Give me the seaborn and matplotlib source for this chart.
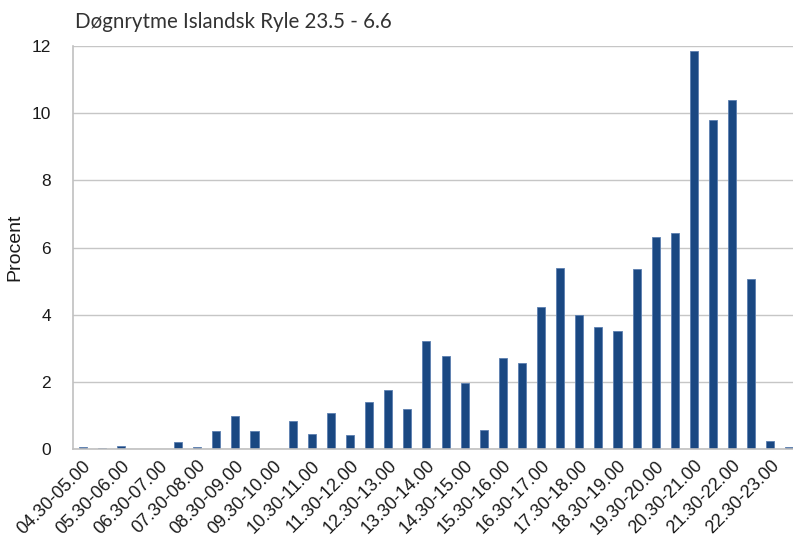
import matplotlib
matplotlib.use("Agg")
import matplotlib.pyplot as plt
import matplotlib.transforms as mtransforms
import seaborn as sns
import pandas as pd

# half-hour intervals 04.30 - 23.30
intervals = [
    "04.30-05.00", "05.00-05.30", "05.30-06.00", "06.00-06.30", "06.30-07.00",
    "07.00-07.30", "07.30-08.00", "08.00-08.30", "08.30-09.00", "09.00-09.30",
    "09.30-10.00", "10.00-10.30", "10.30-11.00", "11.00-11.30", "11.30-12.00",
    "12.00-12.30", "12.30-13.00", "13.00-13.30", "13.30-14.00", "14.00-14.30",
    "14.30-15.00", "15.00-15.30", "15.30-16.00", "16.00-16.30", "16.30-17.00",
    "17.00-17.30", "17.30-18.00", "18.00-18.30", "18.30-19.00", "19.00-19.30",
    "19.30-20.00", "20.00-20.30", "20.30-21.00", "21.00-21.30", "21.30-22.00",
    "22.00-22.30", "22.30-23.00", "23.00-23.30",
]
procent = [
    0.05, 0.04, 0.08, 0.01, 0.0, 0.2, 0.05, 0.54, 0.98, 0.54,
    0.01, 0.82, 0.45, 1.06, 0.42, 1.41, 1.76, 1.19, 3.22, 2.77,
    1.97, 0.56, 2.71, 2.56, 4.23, 5.40, 3.99, 3.63, 3.52, 5.36,
    6.31, 6.43, 11.84, 9.79, 10.38, 5.06, 0.25, 0.07,
]
shown_labels = [lab if i % 2 == 0 else "" for i, lab in enumerate(intervals)]

df = pd.DataFrame({"interval": intervals, "procent": procent})

sns.set_style("white")
fig = plt.figure(figsize=(7.93, 5.37), dpi=100)
ax = fig.add_axes([73 / 793, 88 / 537, 726 / 793, 403 / 537])

sns.barplot(data=df, x="interval", y="procent", color="#1a4882", width=0.42,
            edgecolor="#5b7fb0", linewidth=0.6, saturation=1, ax=ax)

ax.set_ylim(0, 12)
ax.set_xlim(-0.5, 37.5)
ax.set_yticks(range(0, 13, 2))
ax.yaxis.grid(True, color="#c6c6c6", linewidth=1)
ax.set_axisbelow(True)
for s in ["top", "right"]:
    ax.spines[s].set_visible(False)
for s in ["left", "bottom"]:
    ax.spines[s].set_color("#c0c0c0")
    ax.spines[s].set_linewidth(1.2)

ax.set_xticks(range(len(intervals)))
ax.set_xticklabels(shown_labels, rotation=45, ha="right", rotation_mode="anchor",
                   fontsize=13, color="#1a1a1a", family="Liberation Sans")
shift = mtransforms.ScaledTranslation(-5 / 100, 0, fig.dpi_scale_trans)
for t in ax.get_xticklabels():
    t.set_transform(t.get_transform() + shift)
ax.tick_params(axis="x", length=0, pad=6)
ax.tick_params(axis="y", length=0, pad=16, labelsize=12.5, labelcolor="#1a1a1a")
for t in ax.get_yticklabels():
    t.set_family("Liberation Sans")

ax.set_xlabel("")
ax.set_ylabel("Procent", fontsize=14, family="Liberation Sans", color="#1a1a1a", labelpad=6)

fig.text(75 / 793, 1 - 22 / 537, "Døgnrytme Islandsk Ryle 23.5 - 6.6", fontsize=14.8,
         family="Lato", color="#333333", va="center", ha="left")

fig.savefig("out.png", dpi=100)
